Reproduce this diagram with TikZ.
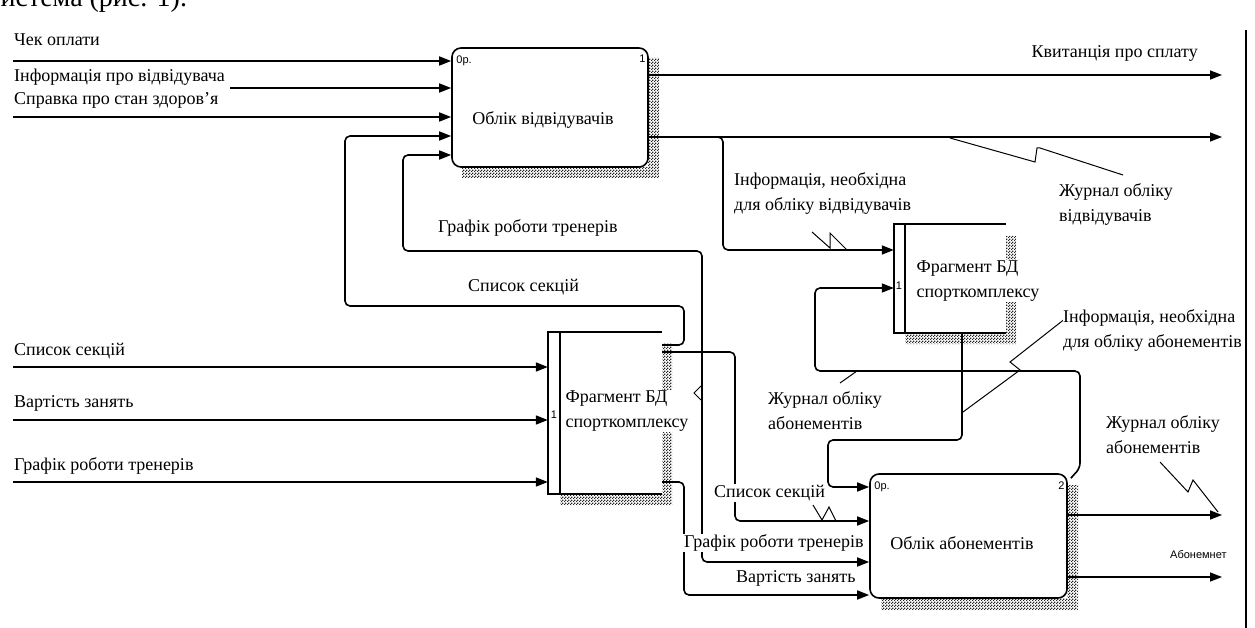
\documentclass[tikz,border=0pt]{standalone}
\usepackage{fontspec}
\setmainfont{Liberation Serif}
\newfontfamily\idefsans{Liberation Sans}
\usetikzlibrary{arrows.meta,patterns}
\newcommand\lblfont{\fontsize{18}{25}\selectfont}
\newcommand\idefsmall{\idefsans\fontsize{11}{12}\selectfont}
\pgfdeclarepatternformonly{dither}{\pgfqpoint{0pt}{0pt}}{\pgfqpoint{3pt}{3pt}}{\pgfqpoint{3pt}{3pt}}{%
  \pgfpathrectangle{\pgfqpoint{0pt}{0pt}}{\pgfqpoint{1.5pt}{1.5pt}}%
  \pgfpathrectangle{\pgfqpoint{1.5pt}{1.5pt}}{\pgfqpoint{1.5pt}{1.5pt}}%
  \pgfusepath{fill}}
\tikzset{
  flow/.style={line width=1.6pt, rounded corners=5pt},
  arr/.style={flow, -{Triangle[length=12pt,width=9pt]}},
  edge/.style={line width=1.6pt},
  lbl/.style={font=\lblfont, inner sep=1pt, fill=white, align=left, anchor=west},
  tinylbl/.style={font=\idefsmall, inner sep=0pt},
  squig/.style={line width=1pt},
  shade/.style={pattern=dither, pattern color=black!85},
  proc/.style={draw, line width=1.6pt, rounded corners=9pt, fill=white, inner sep=0pt},
  storebox/.style={draw=none, fill=white, inner sep=0pt},
}
\begin{document}
\begin{tikzpicture}[x=1pt,y=-1pt]
\useasboundingbox (0,0) rectangle (1255,628);
% clipped caption fragment at the top
\node[anchor=base west, inner sep=0pt, font=\fontsize{28}{30}\selectfont] (cap) at (-12,7) {система (рис. 1).};

% shadows
\fill[shade] (648,58) -- (659,58) -- (659,178) -- (462,178) -- (462,167) -- (648,167) -- cycle;
\fill[shade] (1006,236) -- (1016,236) -- (1016,344) -- (905,344) -- (905,333) -- (1006,333) -- cycle;
\fill[shade] (662,343) -- (672,343) -- (672,505) -- (560,505) -- (560,494) -- (662,494) -- cycle;
\fill[shade] (1067,485) -- (1078,485) -- (1078,610) -- (881,610) -- (881,598) -- (1067,598) -- cycle;

% boxes
\node[proc, minimum width=196pt, minimum height=119pt] (b1) at (550,107.5) {};
\node[proc, minimum width=197pt, minimum height=124pt] (b4) at (968.5,536) {};
\node[storebox, minimum width=112pt, minimum height=109pt] (b2) at (950,278.5) {};
\node[storebox, minimum width=114pt, minimum height=162pt] (b3) at (605,413) {};
\draw[edge] (b2.north east) -- (b2.north west) -- (b2.south west) -- (b2.south east);
\draw[edge] ([xshift=11pt]b2.north west) -- ([xshift=11pt]b2.south west);
\draw[edge] (b3.north east) -- (b3.north west) -- (b3.south west) -- (b3.south east);
\draw[edge] ([xshift=12pt]b3.north west) -- ([xshift=12pt]b3.south west);
\node[lbl, anchor=center] (b1t) at (543,120) {Облік відвідувачів};
\node[lbl, anchor=center] (b4t) at (962,543) {Облік абонементів};
\node[lbl, anchor=center] (b2t) at (978,281) {Фрагмент БД\\спорткомплексу};
\node[lbl, anchor=center] (b3t) at (627,411) {Фрагмент БД\\спорткомплексу};

% small box labels
\node[tinylbl, anchor=north west] (b1n) at ([xshift=5pt,yshift=-8pt]b1.north west) {0р.};
\node[tinylbl, anchor=north east] (b1k) at ([xshift=-3pt,yshift=-8pt]b1.north east) {1};
\node[tinylbl, anchor=north west] (b4n) at ([xshift=5pt,yshift=-8pt]b4.north west) {0р.};
\node[tinylbl, anchor=north east] (b4k) at ([xshift=-3pt,yshift=-8pt]b4.north east) {2};
\node[tinylbl] (b2k) at (899,286) {1};
\node[tinylbl] (b3k) at (554,415) {1};

% inputs to box 1
\coordinate (i1) at (13,61);
\coordinate (i2) at (230,88);
\coordinate (i3) at (13,117);
\draw[arr] (i1) -- (i1 -| b1.west);
\draw[arr] (i2) -- (i2 -| b1.west);
\draw[arr] (i3) -- (i3 -| b1.west);

% feedback loops
\draw[arr] (b3.north east |- 0,345) -| (684,306) -| (345,136) -- (b1.west |- 0,136);
\coordinate (jG) at (702,394);
\draw[arr] (jG) |- (403,251) |- (b1.west |- 0,155);
\draw[arr] (jG) |- (b4.west |- 0,562);
\draw[squig] (701,386) -- (694,393) -- (701,400);

% outputs of box 3 to box 4
\draw[arr] (b3.south east |- 0,482) -| (684,595) -- (b4.west |- 0,595);
\draw[arr] (b3.north east |- 0,352) -| (735,521) -- (b4.west |- 0,521);

% inputs to box 3
\coordinate (l1) at (13,367);
\coordinate (l2) at (13,420);
\coordinate (l3) at (13,482);
\draw[arr] (l1) -- (l1 -| b3.west);
\draw[arr] (l2) -- (l2 -| b3.west);
\draw[arr] (l3) -- (l3 -| b3.west);

% outputs of box 1
\coordinate (e1) at (1222,75);
\coordinate (e2) at (1222,137);
\draw[arr] (b1.east |- e1) -- (e1);
\draw[arr] (b1.east |- e2) -- (e2);
\coordinate (j1) at (712,137);
\draw[arr] (j1) -| (723,250) -- (b2.west |- 0,250);

% box 4 outputs
\coordinate (e3) at (1222,515);
\coordinate (e4) at (1222,577);
\draw[arr] (b4.east |- e3) -- (e3);
\draw[arr] (b4.east |- e4) -- (e4);

% box 4 -> box 2 and box 2 -> box 4
\draw[arr] ([xshift=3pt,yshift=-5pt]b4.north east) -- (1080,468) |- (815,371) |- (b2.west |- 0,288);
\draw[arr] (962,0 |- b2.south) |- (828,440) |- (b4.west |- 0,487);

% squiggles
\draw[squig] (950,138) -- (1035,162) -- (1037,148) -- (1040,148) -- (1123,175);
\draw[squig] (812,232) -- (830,248) -- (830,233) -- (847,250);
\draw[squig] (840,383) -- (857,371);
\draw[squig] (963,412) -- (1020,370) -- (1010,362) -- (1066,318);
\draw[squig] (1160,462) -- (1188,492) -- (1193,480) -- (1218,512);
\draw[squig] (813,505) -- (822,520) -- (829,507) -- (836,521);

% labels
\node[lbl] (t1) at (13,40) {Чек оплати};
\node[lbl] (t2) at (13,77) {Інформація про відвідувача};
\node[lbl] (t3) at (13,100) {Справка про стан здоров'я};
\node[lbl, anchor=east] (t4) at (1199,53) {Квитанція про сплату};
\node[lbl] (t5) at (437,228) {Графік роботи тренерів};
\node[lbl] (t6) at (467,287) {Список секцій};
\node[lbl] (t7) at (733,194) {Інформація, необхідна\\для обліку відвідувачів};
\node[lbl] (t8) at (1058,205) {Журнал обліку\\відвідувачів};
\node[lbl] (t9) at (13,351) {Список секцій};
\node[lbl] (t10) at (13,403) {Вартість занять};
\node[lbl] (t11) at (13,466) {Графік роботи тренерів};
\node[lbl] (t12) at (767,411) {Журнал обліку\\абонементів};
\node[lbl, inner sep=0pt] (t13) at (1063,330) {Інформація, необхідна\\для обліку абонементів};
\node[lbl] (t14) at (1105,435) {Журнал обліку\\абонементів};
\node[lbl] (t15) at (713,493) {Список секцій};
\node[lbl] (t16) at (683,543) {Графік роботи тренерів};
\node[lbl] (t17) at (735,578) {Вартість занять};
\node[tinylbl, fill=white, anchor=west] (t18) at (1170,555) {Абонемнет};

% right frame
\draw[line width=1.6pt] (1246,30) -- (1246,628);
\end{tikzpicture}
\end{document}
